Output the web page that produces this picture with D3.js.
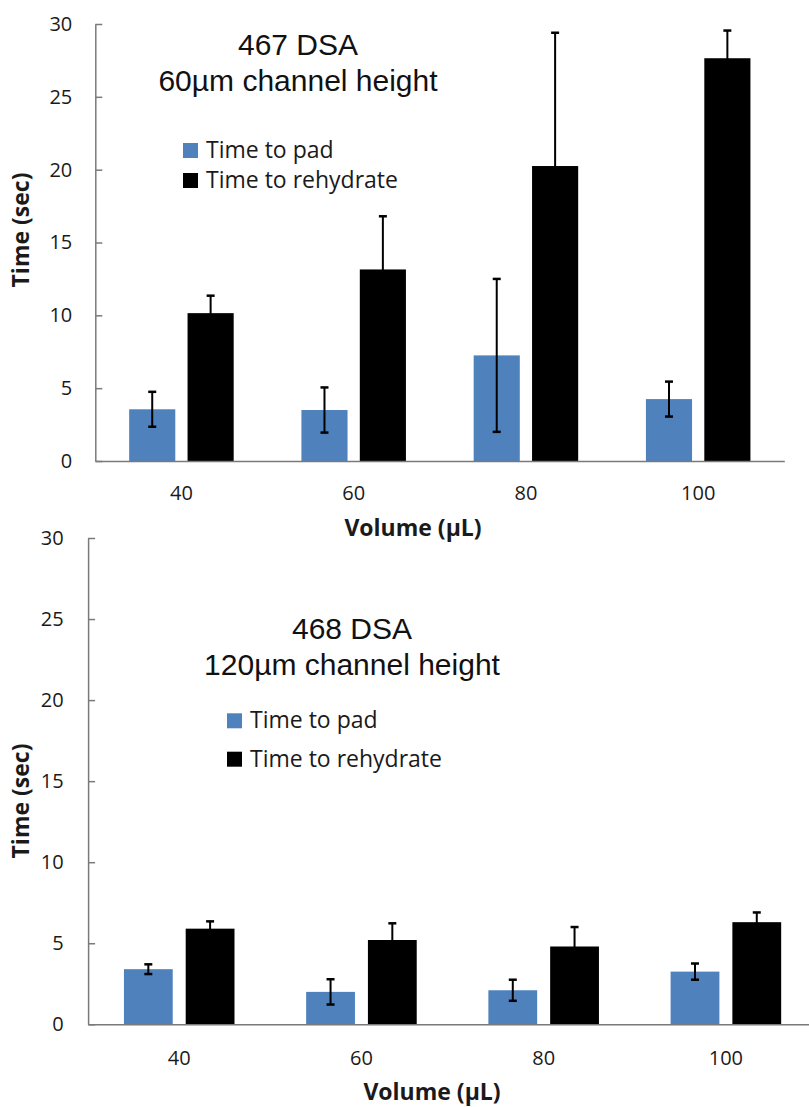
<!DOCTYPE html>
<html>
<head>
<meta charset="utf-8">
<script src="https://cdn.jsdelivr.net/npm/d3@7"></script>
<style>
  html, body { margin: 0; padding: 0; background: #fff; }
  svg { display: block; }
</style>
</head>
<body>
<svg id="chart" width="809" height="1107"></svg>
<script>
// Volumes tested (µL) and the two measured series
const volumes = ["40", "60", "80", "100"];
const seriesNames = ["Time to pad", "Time to rehydrate"];
const seriesColors = ["#4F81BD", "#000000"];
const yTicks = [0, 5, 10, 15, 20, 25, 30];

// 467 DSA, 60 µm channel height
const padTimes467 = [3.55, 3.5, 7.25, 4.25];
const padErr467 = [1.2, 1.55, 5.25, 1.2];
const rehydrateTimes467 = [10.15, 13.15, 20.25, 27.65];
const rehydrateErr467 = [1.2, 3.65, 9.15, 1.9];

// 468 DSA, 120 µm channel height
const padTimes468 = [3.4, 2.0, 2.1, 3.25];
const padErr468 = [0.3, 0.78, 0.65, 0.5];
const rehydrateTimes468 = [5.9, 5.2, 4.8, 6.3];
const rehydrateErr468 = [0.45, 1.03, 1.2, 0.6];

const svg = d3.select("#chart");
const tickFont = "'Open Sans', 'Noto Sans', sans-serif";
const titleFont = "'Liberation Sans', Arial, sans-serif";
const axisColor = "#7a7a7a";

function drawPanel(cfg) {
  const g = svg.append("g");

  const x = d3.scaleBand().domain(volumes).range(cfg.xRange).paddingInner(0).paddingOuter(0);
  const xs = d3.scaleBand().domain(seriesNames).range([0, x.bandwidth()])
    .paddingInner(0.21).paddingOuter(0.58);
  const y = d3.scaleLinear().domain([0, 30]).range(cfg.yRange);

  const rows = volumes.map((v, i) => ({
    volume: v,
    values: [
      { name: seriesNames[0], value: cfg.pad[i], err: cfg.padErr[i], color: seriesColors[0] },
      { name: seriesNames[1], value: cfg.rehydrate[i], err: cfg.rehydrateErr[i], color: seriesColors[1] }
    ]
  }));

  // bars
  const groups = g.selectAll("g.group").data(rows).enter().append("g")
    .attr("class", "group")
    .attr("transform", d => `translate(${x(d.volume)},0)`);

  groups.selectAll("rect").data(d => d.values).enter().append("rect")
    .attr("x", d => xs(d.name))
    .attr("width", xs.bandwidth())
    .attr("y", d => y(d.value))
    .attr("height", d => y(0) - y(d.value))
    .attr("fill", d => d.color);

  // error bars
  const eb = groups.selectAll("g.err").data(d => d.values).enter().append("g")
    .attr("class", "err")
    .attr("stroke", "#000")
    .attr("stroke-width", 2);
  eb.append("line")
    .attr("x1", d => xs(d.name) + xs.bandwidth() / 2)
    .attr("x2", d => xs(d.name) + xs.bandwidth() / 2)
    .attr("y1", d => y(d.value + d.err))
    .attr("y2", d => y(d.value - d.err));
  [1, -1].forEach(sign => {
    eb.append("line")
      .attr("x1", d => xs(d.name) + xs.bandwidth() / 2 - 4)
      .attr("x2", d => xs(d.name) + xs.bandwidth() / 2 + 4)
      .attr("y1", d => y(d.value + sign * d.err))
      .attr("y2", d => y(d.value + sign * d.err))
      .attr("stroke-width", 2.5);
  });

  // y axis with inward ticks
  const yAxis = g.append("g")
    .attr("transform", `translate(${cfg.xRange[0]},0)`)
    .call(d3.axisLeft(y).tickValues(yTicks).tickSize(-7).tickSizeOuter(0).tickPadding(cfg.yPad));
  yAxis.select(".domain").attr("stroke", axisColor).attr("stroke-width", 1.5);
  yAxis.selectAll(".tick line").attr("stroke", axisColor).attr("stroke-width", 1.5);
  yAxis.selectAll(".tick text")
    .attr("font-family", tickFont).attr("font-size", 20).attr("fill", "#1a1a1a");

  // x axis
  const xAxis = g.append("g")
    .attr("transform", `translate(0,${cfg.yRange[0]})`)
    .call(d3.axisBottom(x).tickSize(0).tickPadding(cfg.xPad));
  xAxis.select(".domain").attr("stroke", axisColor).attr("stroke-width", 1.5);
  xAxis.selectAll(".tick text")
    .attr("font-family", tickFont).attr("font-size", 20).attr("fill", "#1a1a1a");

  // axis titles
  g.append("text")
    .attr("transform", `translate(${cfg.yTitle[0]},${cfg.yTitle[1]}) rotate(-90)`)
    .attr("text-anchor", "middle")
    .attr("font-family", tickFont).attr("font-weight", "bold").attr("font-size", 23)
    .attr("fill", "#1a1a1a")
    .text("Time (sec)");
  g.append("text")
    .attr("x", cfg.xTitle[0]).attr("y", cfg.xTitle[1])
    .attr("text-anchor", "middle")
    .attr("font-family", tickFont).attr("font-weight", "bold").attr("font-size", 23)
    .attr("fill", "#1a1a1a")
    .text("Volume (µL)");

  // panel title
  cfg.title.forEach((line, i) => {
    g.append("text")
      .attr("x", cfg.titlePos[0]).attr("y", cfg.titlePos[1] + i * cfg.titleStep)
      .attr("text-anchor", "middle")
      .attr("font-family", titleFont).attr("font-size", 30)
      .attr("fill", "#111")
      .text(line);
  });

  // legend
  const lg = g.append("g").attr("transform", `translate(${cfg.legendPos[0]},${cfg.legendPos[1]})`);
  seriesNames.forEach((name, i) => {
    lg.append("rect")
      .attr("x", 0).attr("y", i * cfg.legendStep - 15)
      .attr("width", 15).attr("height", 15)
      .attr("fill", seriesColors[i]);
    lg.append("text")
      .attr("x", 23).attr("y", i * cfg.legendStep)
      .attr("font-family", tickFont).attr("font-size", 23)
      .attr("fill", "#1a1a1a")
      .text(name);
  });
}

drawPanel({
  xRange: [95.3, 784.3], yRange: [461, 24],
  pad: padTimes467, padErr: padErr467,
  rehydrate: rehydrateTimes467, rehydrateErr: rehydrateErr467,
  yPad: 23, xPad: 25,
  yTitle: [29, 230], xTitle: [413, 536],
  title: ["467 DSA", "60µm channel height"], titlePos: [298, 55], titleStep: 35.7,
  legendPos: [183, 158], legendStep: 30
});

drawPanel({
  xRange: [88.1, 817], yRange: [1024.3, 538],
  pad: padTimes468, padErr: padErr468,
  rehydrate: rehydrateTimes468, rehydrateErr: rehydrateErr468,
  yPad: 24.5, xPad: 26.5,
  yTitle: [29, 801], xTitle: [432, 1100],
  title: ["468 DSA", "120µm channel height"], titlePos: [352, 639.3], titleStep: 35.7,
  legendPos: [227, 728.3], legendStep: 38.4
});
</script>
</body>
</html>
